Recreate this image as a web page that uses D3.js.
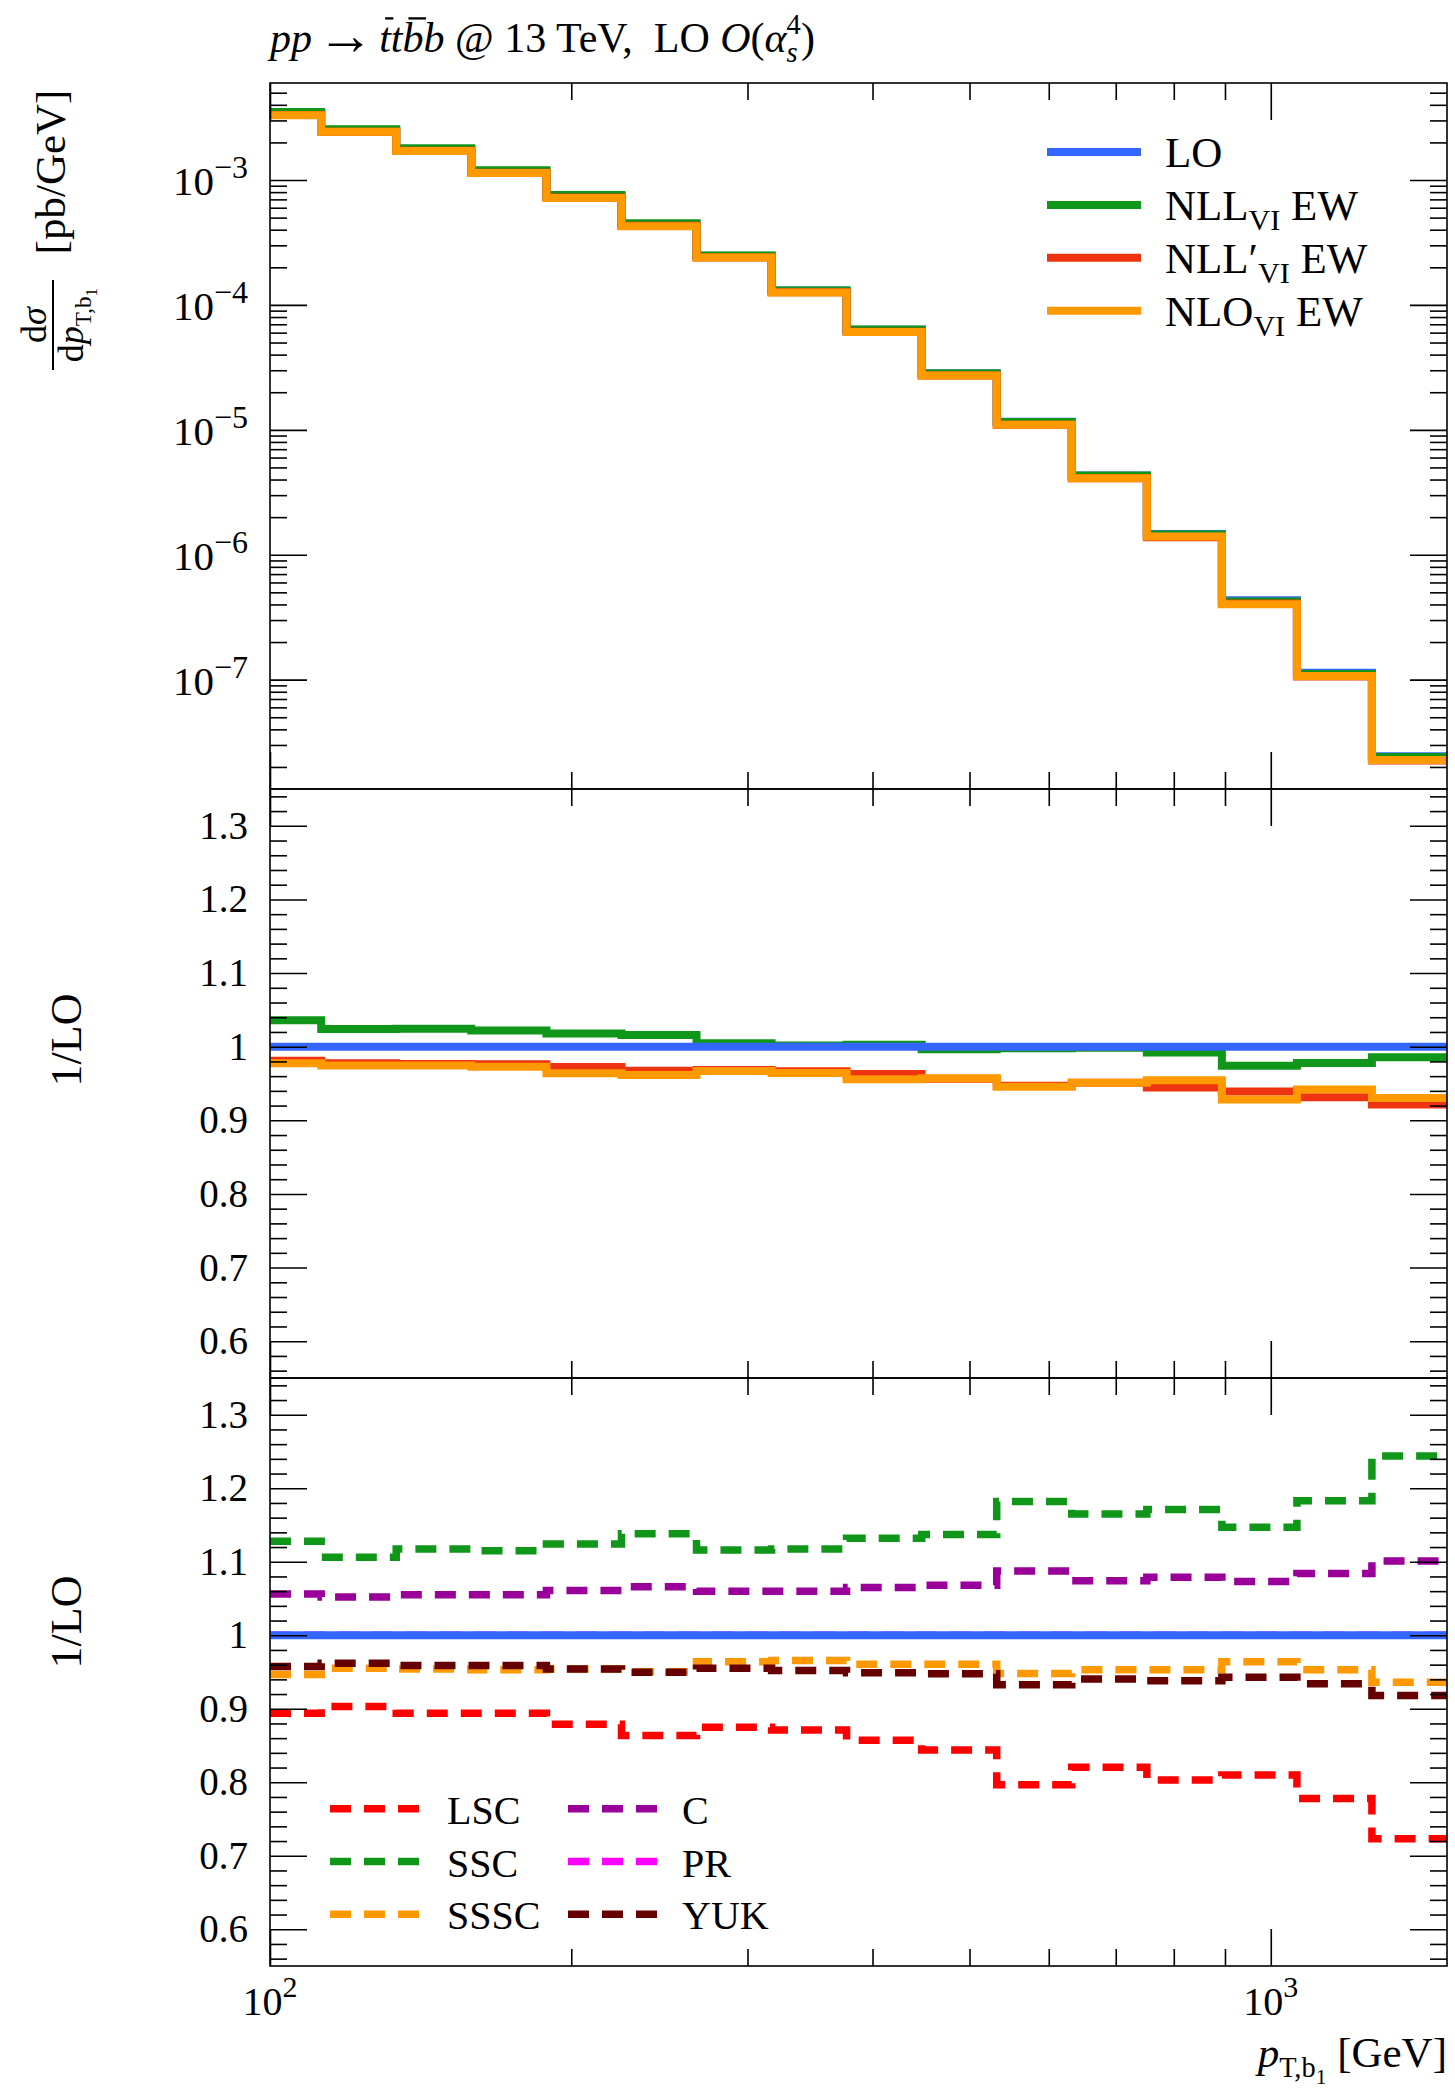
<!DOCTYPE html>
<html>
<head>
<meta charset="utf-8">
<script src="https://cdn.jsdelivr.net/npm/d3@7"></script>
<style>
  html, body { margin: 0; padding: 0; background: #fff; }
  svg { display: block; font-family: "Liberation Serif", "DejaVu Serif", serif; }
  text { white-space: pre; fill: #000; }
</style>
</head>
<body>
<svg id="chart" width="1455" height="2089"></svg>
<script>
// ---- data -------------------------------------------------------------
// bin edges of the leading b-jet transverse momentum [GeV]
const binEdges = [100, 112.5, 133.7, 158.9, 188.9, 224.5, 266.8, 317.1, 376.8,
                  447.9, 532.3, 632.6, 751.9, 893.6, 1062, 1262, 1500];

// LO differential cross section [pb/GeV]
const loXsec = [3.376e-3, 2.493e-3, 1.755e-3, 1.172e-3, 7.45e-4, 4.44e-4, 2.48e-4, 1.305e-4,
                6.34e-5, 2.84e-5, 1.159e-5, 4.31e-6, 1.464e-6, 4.33e-7, 1.137e-7, 2.44e-8];

// ratios to LO of the EW-corrected predictions
const ratioNLL  = [1.036, 1.024, 1.0245, 1.022, 1.018, 1.016, 1.0045, 1.0015,
                   1.0025, 0.9965, 0.998, 0.9985, 0.992, 0.974, 0.978, 0.9855];
const ratioNLLp = [0.981, 0.9774, 0.9764, 0.976, 0.9724, 0.9674, 0.9683, 0.9665,
                   0.9629, 0.9565, 0.947, 0.951, 0.9447, 0.9393, 0.9312, 0.9216];
const ratioNLO  = [0.9774, 0.9746, 0.9746, 0.9728, 0.9638, 0.9615, 0.967, 0.9642,
                   0.9557, 0.957, 0.9457, 0.9511, 0.9543, 0.9284, 0.942, 0.9303];

// ratios to LO of the individual Sudakov / collinear / Yukawa contributions
const ratioLSC  = [0.894, 0.903, 0.894, 0.894, 0.879, 0.8635, 0.875, 0.871,
                   0.857, 0.844, 0.7965, 0.8205, 0.803, 0.81, 0.778, 0.723];
const ratioSSC  = [1.128, 1.106, 1.1175, 1.115, 1.124, 1.138, 1.116, 1.1175,
                   1.132, 1.137, 1.182, 1.165, 1.171, 1.147, 1.183, 1.244];
const ratioSSSC = [0.9465, 0.955, 0.954, 0.953, 0.954, 0.9505, 0.964, 0.9655,
                   0.9605, 0.9605, 0.948, 0.953, 0.953, 0.964, 0.953, 0.936];
const ratioC    = [1.056, 1.052, 1.055, 1.055, 1.061, 1.066, 1.06, 1.06,
                   1.065, 1.068, 1.0875, 1.074, 1.079, 1.073, 1.084, 1.101];
const ratioPR   = [1.0, 1.0, 1.0, 1.0, 1.0, 1.0, 1.0, 1.0,
                   1.0, 1.0, 1.0, 1.0, 1.0, 1.0, 1.0, 1.0];
const ratioYUK  = [0.9575, 0.962, 0.959, 0.959, 0.954, 0.9495, 0.955, 0.952,
                   0.949, 0.9475, 0.9325, 0.9405, 0.938, 0.943, 0.934, 0.918];

// tick labels
const xTickValues = [100, 1000];
const xTickExponents = ["2", "3"];
const topTickExponents = [-7, -6, -5, -4, -3];
const ratioTickValues = [0.6, 0.7, 0.8, 0.9, 1.0, 1.1, 1.2, 1.3];
const ratioTickLabels = ["0.6", "0.7", "0.8", "0.9", "1", "1.1", "1.2", "1.3"];

// series styling
const colors = {
  LO: "#3366ff", NLL: "#109618", NLLp: "#ee3311", NLO: "#ff9900",
  LSC: "#ff0000", SSC: "#109618", SSSC: "#ff9900", C: "#990099", PR: "#ff00ff", YUK: "#660000"
};

// ---- layout -----------------------------------------------------------
const svg = d3.select("#chart");
const X0 = 270, X1 = 1447;
const TOP = [83, 789], MID = [789, 1378], BOT = [1378, 1966];
const MAJ = 37, MIN = 17, SOLID_W = 8, DASH_W = 7.5, DASH = "21,13";

const x = d3.scaleLog().domain([100, 1500]).range([X0, X1]);
const yTop = d3.scaleLog().domain([1.332e-8, 5.98e-3]).range([TOP[1], TOP[0]]);
const yMid = d3.scaleLinear().domain([0.55, 1.35]).range([MID[1], MID[0]]);
const yBot = d3.scaleLinear().domain([0.55, 1.35]).range([BOT[1], BOT[0]]);

// rich text: a row of pieces (italics, sub/superscripts, overbars) laid out left to right
function rich(parent, pieces, opt) {
  const size = opt.size;
  const g = parent.append("g");
  let cx = 0;
  for (const p of pieces) {
    if (p.supsub) {
      const fs = size * 0.68;
      const a = g.append("text").attr("x", cx).attr("y", -size * 0.42)
        .attr("font-size", fs).text(p.supsub[0]);
      const b = g.append("text").attr("x", cx).attr("y", size * 0.24)
        .attr("font-size", fs).attr("font-style", p.subIt ? "italic" : "normal").text(p.supsub[1]);
      cx += Math.max(a.node().getComputedTextLength(), b.node().getComputedTextLength());
      continue;
    }
    const fs = size * (p.s || 1);
    const t = g.append("text").attr("x", cx + (p.dx || 0)).attr("y", p.y || 0)
      .attr("font-size", fs).attr("font-style", p.it ? "italic" : "normal").text(p.t);
    const w = t.node().getComputedTextLength();
    if (p.bar) {
      g.append("line")
        .attr("x1", cx + 0.14 * fs).attr("x2", cx + w + 0.06 * fs)
        .attr("y1", -0.8 * fs).attr("y2", -0.8 * fs)
        .attr("stroke", "#000").attr("stroke-width", 0.055 * fs);
    }
    cx += (p.dx || 0) + w;
  }
  const shift = opt.anchor === "end" ? -cx : opt.anchor === "middle" ? -cx / 2 : 0;
  g.attr("transform", `translate(${(opt.x || 0) + shift},${opt.y || 0})`);
  return g;
}

// clip regions for the three panels
const defs = svg.append("defs");
[["clipTop", TOP], ["clipMid", MID], ["clipBot", BOT]].forEach(([id, r]) => {
  defs.append("clipPath").attr("id", id).append("rect")
    .attr("x", X0).attr("y", r[0]).attr("width", X1 - X0).attr("height", r[1] - r[0]);
});

// histogram step path through the bins
function stepPoints(values) {
  const pts = values.map((v, i) => [binEdges[i], v]);
  pts.push([binEdges[binEdges.length - 1], values[values.length - 1]]);
  return pts;
}
function drawStep(g, yScale, values, color, dashed) {
  const line = d3.line().x(d => x(d[0])).y(d => yScale(d[1])).curve(d3.curveStepAfter);
  g.append("path").attr("d", line(stepPoints(values)))
    .attr("fill", "none").attr("stroke", color)
    .attr("stroke-width", dashed ? DASH_W : SOLID_W)
    .attr("stroke-dasharray", dashed ? DASH : null)
    .attr("stroke-linejoin", "miter");
}

// tick marks on all four sides of a panel
const xMinor = [200, 300, 400, 500, 600, 700, 800, 900];
function ticks(range, yScale, majorY, minorY) {
  const g = svg.append("g");
  const mk = (axisFn, scale, vals, len, tx, ty) => g.append("g")
    .attr("transform", `translate(${tx},${ty})`)
    .call(axisFn(scale).tickValues(vals).tickSize(-len).tickFormat(() => ""))
    .call(s => {
      s.select(".domain").remove();
      s.selectAll("text").remove();
      s.selectAll("line").attr("stroke", "#000").attr("stroke-width", 1.6);
    });
  mk(d3.axisBottom, x, xTickValues, MAJ, 0, range[1]);
  mk(d3.axisBottom, x, xMinor, MIN, 0, range[1]);
  mk(d3.axisTop, x, xTickValues, MAJ, 0, range[0]);
  mk(d3.axisTop, x, xMinor, MIN, 0, range[0]);
  mk(d3.axisLeft, yScale, majorY, MAJ, X0, 0);
  mk(d3.axisLeft, yScale, minorY, MIN, X0, 0);
  mk(d3.axisRight, yScale, majorY, MAJ, X1, 0);
  mk(d3.axisRight, yScale, minorY, MIN, X1, 0);
}
function frame(range) {
  svg.append("rect").attr("x", X0).attr("y", range[0])
    .attr("width", X1 - X0).attr("height", range[1] - range[0])
    .attr("fill", "none").attr("stroke", "#000").attr("stroke-width", 1.6);
}

// ---- title ------------------------------------------------------------
rich(svg, [
  { t: "pp", it: true }, { t: " ", s: 0.5 }, { t: "\u2192", s: 1.35, y: 2 }, { t: " ", s: 0.5 },
  { t: "t", it: true, bar: true }, { t: "t", it: true },
  { t: "b", it: true, bar: true }, { t: "b", it: true },
  { t: " @ 13 TeV,  LO " }, { t: "O", it: true }, { t: "(" }, { t: "\u03b1", it: true },
  { supsub: ["4", "s"], subIt: true }, { t: ")" }
], { x: X0, y: 52, size: 42 });

// ---- top panel: differential cross sections -----------------------------
const gTop = svg.append("g").attr("clip-path", "url(#clipTop)");
const xsecNLL  = loXsec.map((v, i) => v * ratioNLL[i]);
const xsecNLLp = loXsec.map((v, i) => v * ratioNLLp[i]);
const xsecNLO  = loXsec.map((v, i) => v * ratioNLO[i]);
drawStep(gTop, yTop, loXsec, colors.LO, false);
drawStep(gTop, yTop, xsecNLL, colors.NLL, false);
drawStep(gTop, yTop, xsecNLLp, colors.NLLp, false);
drawStep(gTop, yTop, xsecNLO, colors.NLO, false);

const topMajor = topTickExponents.map(e => Math.pow(10, e));
const topMinor = [];
for (let e = -8; e <= -3; e++) for (let k = 2; k <= 9; k++) {
  const v = k * Math.pow(10, e);
  if (v > yTop.domain()[0] && v < yTop.domain()[1]) topMinor.push(v);
}
frame(TOP);
ticks(TOP, yTop, topMajor, topMinor);
topTickExponents.forEach(e => {
  rich(svg, [{ t: "10" }, { t: "\u2212" + Math.abs(e), s: 0.78, y: -17 }],
    { x: 248, y: yTop(Math.pow(10, e)) + 15, size: 41, anchor: "end" });
});

// top legend
const topLegend = [
  { color: colors.LO, pieces: [{ t: "LO" }] },
  { color: colors.NLL, pieces: [{ t: "NLL" }, { t: "VI", s: 0.7, y: 10 }, { t: " EW" }] },
  { color: colors.NLLp, pieces: [{ t: "NLL\u2032" }, { t: "VI", s: 0.7, y: 10 }, { t: " EW" }] },
  { color: colors.NLO, pieces: [{ t: "NLO" }, { t: "VI", s: 0.7, y: 10 }, { t: " EW" }] }
];
topLegend.forEach((d, i) => {
  const yy = 152 + i * 52.9;
  svg.append("line").attr("x1", 1047).attr("x2", 1141).attr("y1", yy).attr("y2", yy)
    .attr("stroke", d.color).attr("stroke-width", SOLID_W);
  rich(svg, d.pieces, { x: 1165, y: yy + 15, size: 43 });
});

// y axis title of the top panel (rotated)
const yt = svg.append("g").attr("transform", "translate(53,228) rotate(-90)");
rich(yt, [{ t: "[pb/GeV]" }], { x: 56, y: 12, size: 43, anchor: "middle" });
rich(yt, [{ t: "d" }, { t: "\u03c3", it: true }], { x: -97, y: -7, size: 36, anchor: "middle" });
yt.append("line").attr("x1", -142).attr("x2", -52).attr("y1", 0).attr("y2", 0)
  .attr("stroke", "#000").attr("stroke-width", 2);
rich(yt, [{ t: "d" }, { t: "p", it: true }, { t: "T,b", s: 0.64, y: 8 }, { t: "1", s: 0.48, y: 14 }],
  { x: -97, y: 30, size: 36, anchor: "middle" });

// ---- ratio panels ------------------------------------------------------
const ratioMinor = d3.range(28, 68).map(k => k * 0.02).filter(v => Math.abs(v * 10 - Math.round(v * 10)) > 1e-6);

function ratioAxis(range, yScale, labelY) {
  frame(range);
  ticks(range, yScale, ratioTickValues, ratioMinor);
  ratioTickValues.forEach((v, i) => {
    rich(svg, [{ t: ratioTickLabels[i] }], { x: 248, y: yScale(v) + 13, size: 39, anchor: "end" });
  });
  const gl = svg.append("g").attr("transform", `translate(81,${labelY}) rotate(-90)`);
  rich(gl, [{ t: "1/LO" }], { x: 0, y: 0, size: 44, anchor: "middle" });
}

// middle panel: EW-corrected predictions over LO
const gMid = svg.append("g").attr("clip-path", "url(#clipMid)");
drawStep(gMid, yMid, ratioNLL, colors.NLL, false);
drawStep(gMid, yMid, ratioNLLp, colors.NLLp, false);
drawStep(gMid, yMid, ratioNLO, colors.NLO, false);
drawStep(gMid, yMid, loXsec.map(() => 1), colors.LO, false);
ratioAxis(MID, yMid, 1040);

// bottom panel: individual contributions over LO
const gBot = svg.append("g").attr("clip-path", "url(#clipBot)");
drawStep(gBot, yBot, ratioLSC, colors.LSC, true);
drawStep(gBot, yBot, ratioSSC, colors.SSC, true);
drawStep(gBot, yBot, ratioSSSC, colors.SSSC, true);
drawStep(gBot, yBot, ratioC, colors.C, true);
drawStep(gBot, yBot, ratioPR, colors.PR, true);
drawStep(gBot, yBot, ratioYUK, colors.YUK, true);
drawStep(gBot, yBot, loXsec.map(() => 1), colors.LO, false);
ratioAxis(BOT, yBot, 1622);

// bottom legend, two columns
const botLegend = [
  { name: "LSC", color: colors.LSC }, { name: "SSC", color: colors.SSC }, { name: "SSSC", color: colors.SSSC },
  { name: "C", color: colors.C }, { name: "PR", color: colors.PR }, { name: "YUK", color: colors.YUK }
];
botLegend.forEach((d, i) => {
  const col = Math.floor(i / 3), row = i % 3;
  const x1 = col === 0 ? 330 : 568, tx = col === 0 ? 447 : 682;
  const yy = 1808.7 + row * 52.8;
  svg.append("line").attr("x1", x1).attr("x2", x1 + 94).attr("y1", yy).attr("y2", yy)
    .attr("stroke", d.color).attr("stroke-width", DASH_W).attr("stroke-dasharray", DASH);
  rich(svg, [{ t: d.name }], { x: tx, y: yy + 15, size: 40 });
});

// x tick labels and axis title
xTickValues.forEach((v, i) => {
  rich(svg, [{ t: "10" }, { t: xTickExponents[i], s: 0.75, y: -18 }],
    { x: x(v), y: 2015, size: 40, anchor: "middle" });
});
rich(svg, [{ t: "p", it: true }, { t: "T,b", s: 0.66, y: 10 }, { t: "1", s: 0.5, y: 17 }, { t: " [GeV]" }],
  { x: X1, y: 2067, size: 43, anchor: "end" });
</script>
</body>
</html>
